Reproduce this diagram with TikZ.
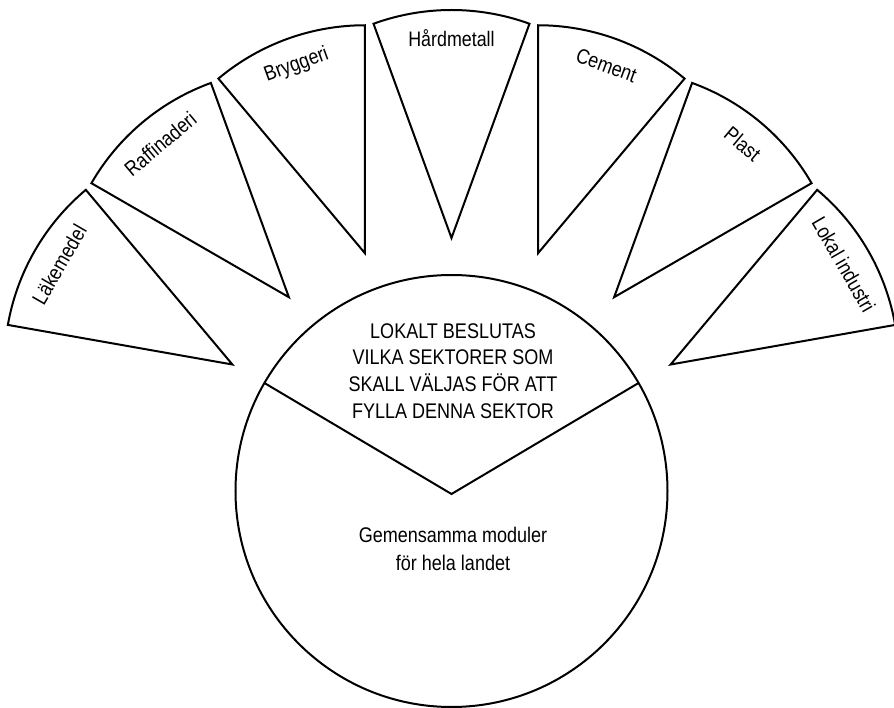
\documentclass[tikz,border=0pt]{standalone}
\usepackage{fontspec}
\setmainfont{Liberation Sans}[FakeStretch=0.85]

\begin{document}
\begin{tikzpicture}[
    x=0.5pt, y=0.5pt, line width=1pt,
    lbl/.style={font=\fontsize{10.5}{12}\selectfont, inner sep=0pt},
    txt/.style={align=center, inner sep=0pt}
]
  % Frame
  \useasboundingbox (-451.5,-216) rectangle (442.5,491);
  \clip (-451.5,-216) rectangle (442.5,491);

  % Hub with the local sector
  \draw (0,0) circle (216);
  \draw (150:216) -- (0,-3) -- (30:216);
  \node[txt, font=\fontsize{10.6}{13.3}\selectfont] (lokalt) at (1.5,120) {LOKALT BESLUTAS\\VILKA SEKTORER SOM\\SKALL VÄLJAS FÖR ATT\\FYLLA DENNA SEKTOR};
  \node[txt, font=\fontsize{10.6}{14.4}\selectfont] (gemensam) at (1.5,-58) {Gemensamma moduler\\för hela landet};

  % Sector wedges
  \draw (150:253) -- ++(130:228) arc[start angle=130, end angle=170, radius=228] -- cycle;
  \draw (130:253) -- ++(110:228) arc[start angle=110, end angle=150, radius=228] -- cycle;
  \draw (110:253) -- ++(90:228) arc[start angle=90, end angle=130, radius=228] -- cycle;
  \draw (90:253) -- ++(70:228) arc[start angle=70, end angle=110, radius=228] -- cycle;
  \draw (70:253) -- ++(50:228) arc[start angle=50, end angle=90, radius=228] -- cycle;
  \draw (50:253) -- ++(30:228) arc[start angle=30, end angle=70, radius=228] -- cycle;
  \draw (30:253) -- ++(10:228) arc[start angle=10, end angle=50, radius=228] -- cycle;

  % Sector labels
  \node[lbl, rotate=60] (lakemedel) at (150:453) {Läkemedel};
  \node[lbl, rotate=40] (raff) at (130:453) {Raffinaderi};
  \node[lbl, rotate=20] (bryggeri) at (110:453) {Bryggeri};
  \node[lbl] (hardmetall) at (90:453) {Hårdmetall};
  \node[lbl, rotate=-20] (cement) at (70:453) {Cement};
  \node[lbl, rotate=-40] (plast) at (50:453) {Plast};
  \node[lbl, rotate=-60] (lokalind) at (30:453) {Lokal industri};
\end{tikzpicture}
\end{document}
